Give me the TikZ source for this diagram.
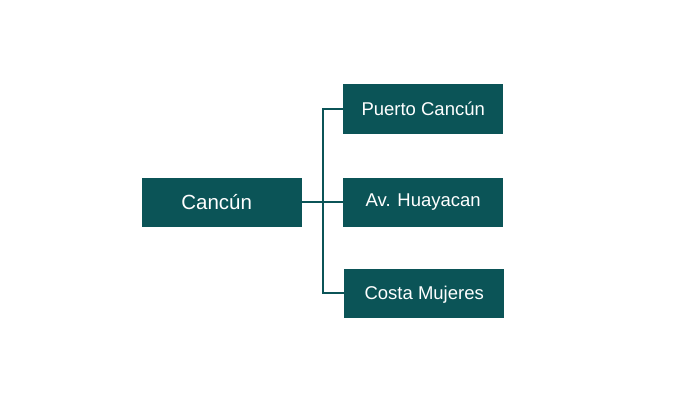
\documentclass[tikz,border=0pt]{standalone}
\usepackage{fontspec}
\setmainfont{Liberation Sans}
\definecolor{teal1}{HTML}{0B5457}
\begin{document}
\begin{tikzpicture}[x=1pt,y=-1pt,
  box/.style={fill=teal1,text=white,inner sep=0pt,minimum width=160pt,minimum height=49.5pt,anchor=north west},
  small/.style={font=\fontsize{18.5}{21}\selectfont},
  conn/.style={draw=teal1,line width=2pt}]
\useasboundingbox (0,0) rectangle (700,400);
\node[box,font=\fontsize{20.5}{23}\selectfont] (root) at (142,177.3) {\hspace*{-11pt}Cancún};
\node[box,small] (a) at (343,84) {Puerto Cancún};
\node[box,small] (b) at (343,177.3) {Av. Huayacan};
\node[box,small,text depth=-2pt] (c) at (344,268.3) {Costa Mujeres};
\coordinate (j) at (322.7,0);
\draw[conn] (root.east) -- (b.west);
\draw[conn] (a.west) -- (j |- a.west) -- (j |- c.west) -- (c.west);
\end{tikzpicture}
\end{document}
